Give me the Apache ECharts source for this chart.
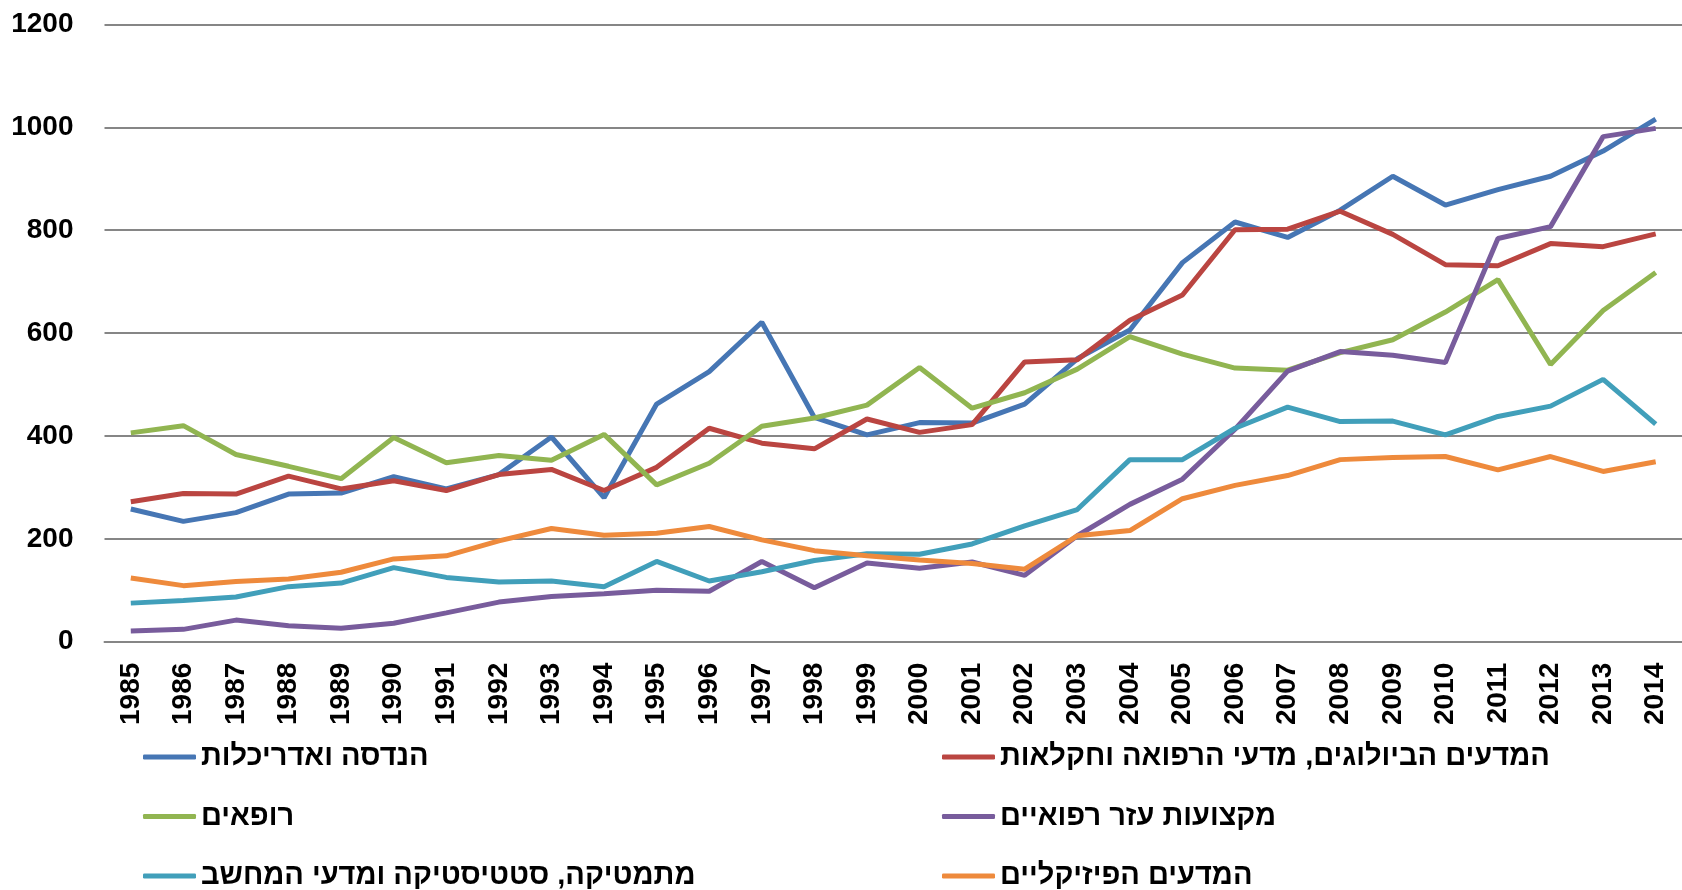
<!DOCTYPE html>
<html>
<head>
<meta charset="utf-8">
<script src="https://cdn.jsdelivr.net/npm/echarts@6/dist/echarts.min.js"></script>
<style>
html,body{margin:0;padding:0;background:#fff;}
#chart{width:1682px;height:890px;}
</style>
</head>
<body>
<div id="chart"></div>
<script>
const years = ['1985','1986','1987','1988','1989','1990','1991','1992','1993','1994','1995','1996','1997','1998','1999','2000','2001','2002','2003','2004','2005','2006','2007','2008','2009','2010','2011','2012','2013','2014'];

const engineering = [258,234,251,287,289,321,297,325,398,280,462,525,621,436,402,426,425,462,550,606,737,816,786,839,905,849,879,905,954,1016];
const bioMedAgri  = [272,288,287,322,297,313,294,325,335,294,339,415,386,375,433,407,422,544,548,625,674,801,802,837,792,733,731,774,768,793];
const doctors     = [406,420,364,341,317,397,348,362,353,403,305,347,419,435,460,533,454,484,530,593,559,532,528,562,587,641,704,539,644,718];
const paramedical = [21,24,42,31,26,36,56,77,88,93,100,98,156,105,153,143,155,129,206,267,316,413,526,564,557,543,784,807,982,998];
const mathCS      = [75,80,87,107,114,144,125,116,118,107,156,118,136,158,171,170,190,225,257,354,354,415,456,428,429,402,438,458,510,423];
const physical    = [124,109,117,122,135,161,167,196,220,207,211,224,198,177,167,159,152,141,206,216,278,304,323,354,358,360,334,360,331,350];

const names = {
  eng: 'הנדסה ואדריכלות',
  bio: 'המדעים הביולוגים, מדעי הרפואה וחקלאות',
  doc: 'רופאים',
  para: 'מקצועות עזר רפואיים',
  math: 'מתמטיקה, סטטיסטיקה ומדעי המחשב',
  phys: 'המדעים הפיזיקליים'
};

const yTicks = [0,200,400,600,800,1000,1200];

const colors = ['#4676B4','#BA4541','#91B551','#785C9C','#419FBA','#EE8A3C'];
const FONT = '"Liberation Sans", Arial, sans-serif';

function line(name, data, color) {
  return {
    name: name, type: 'line', data: data, symbol: 'none',
    lineStyle: {width: 5, color: color}, itemStyle: {color: color},
    emphasis: {disabled: true}, animation: false
  };
}

const legendCommon = {
  orient: 'vertical', icon: 'roundRect', itemWidth: 53, itemHeight: 5,
  itemGap: 29.5, padding: 0, height: 200,
  textStyle: {fontFamily: FONT, fontWeight: 'bold', fontSize: 29, color: '#000', lineHeight: 30},
  selectedMode: false
};

const chart = echarts.init(document.getElementById('chart'));
chart.setOption({
  animation: false,
  color: colors,
  grid: {left: 104.5, right: -12, top: 24.5, bottom: 248.3, containLabel: false},
  xAxis: {
    type: 'category', data: years, boundaryGap: true,
    axisLine: {show: true, lineStyle: {color: '#868686', width: 2}},
    axisTick: {show: false},
    axisLabel: {rotate: 90, margin: 21, interval: 0, fontFamily: FONT, fontWeight: 'bold', fontSize: 28, color: '#000'}
  },
  yAxis: {
    type: 'value', min: yTicks[0], max: yTicks[yTicks.length-1], interval: 200,
    axisLine: {show: false}, axisTick: {show: false},
    splitLine: {lineStyle: {color: '#868686', width: 2}},
    axisLabel: {margin: 31, fontFamily: FONT, fontWeight: 'bold', fontSize: 28, color: '#000',
      formatter: function (v) { return String(v); }}
  },
  legend: [
    Object.assign({}, legendCommon, {left: 143, top: 742, data: [names.eng, names.doc, names.math]}),
    Object.assign({}, legendCommon, {left: 942, top: 742, data: [names.bio, names.para, names.phys]})
  ],
  series: [
    line(names.eng, engineering, colors[0]),
    line(names.bio, bioMedAgri, colors[1]),
    line(names.doc, doctors, colors[2]),
    line(names.para, paramedical, colors[3]),
    line(names.math, mathCS, colors[4]),
    line(names.phys, physical, colors[5])
  ]
});
</script>
</body>
</html>
